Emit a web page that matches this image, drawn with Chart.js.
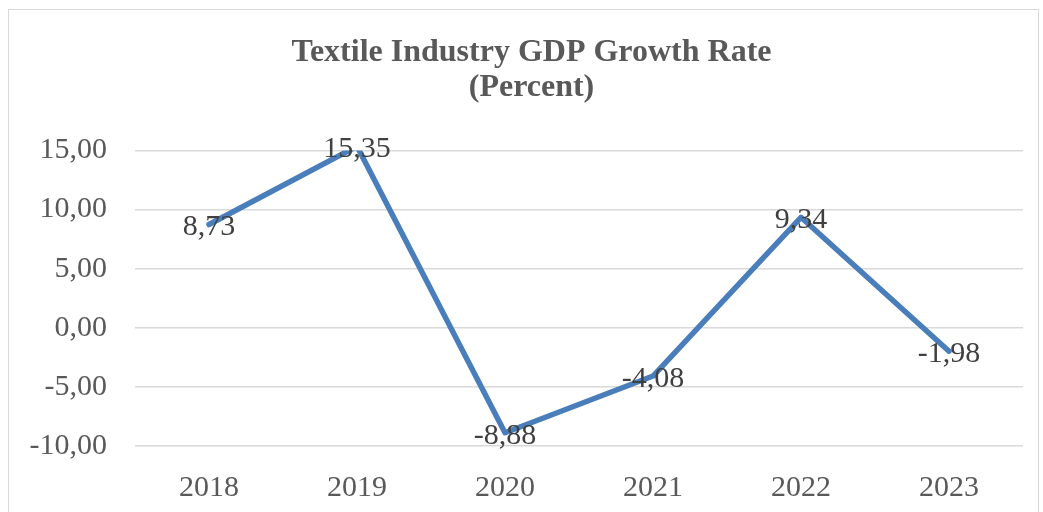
<!DOCTYPE html>
<html>
<head>
<meta charset="utf-8">
<script src="https://cdn.jsdelivr.net/npm/chart.js@4.4.1/dist/chart.umd.min.js"></script>
<style>
    html, body { margin: 0; padding: 0; background: #ffffff; }
    #frame {
        position: absolute; left: 8px; top: 9px; width: 1031px; height: 520px;
        border: 1px solid #d9d9d9; box-sizing: border-box;
    }
    #grafica { position: absolute; left: 0; top: 0; }
</style>
</head>
<body>
<div id="frame"></div>
<canvas id="grafica" width="1043" height="512"></canvas>
<script>
// --- Datos ---
const years = ['2018', '2019', '2020', '2021', '2022', '2023'];
const growthRate = [8.73, 15.35, -8.88, -4.08, 9.34, -1.98];
const titleLines = ['Textile Industry GDP Growth Rate', '(Percent)'];

const serif = '"Liberation Serif", "Times New Roman", serif';
const toComma = (v, d) => Number(v).toFixed(d).replace('.', ',');

// Etiquetas de datos centradas sobre cada punto
const valueLabels = {
    id: 'valueLabels',
    afterDatasetsDraw(chart) {
        const ctx = chart.ctx;
        const meta = chart.getDatasetMeta(0);
        ctx.save();
        ctx.font = '30px ' + serif;
        ctx.fillStyle = '#404040';
        ctx.textAlign = 'center';
        ctx.textBaseline = 'middle';
        meta.data.forEach((pt, i) => {
            ctx.fillText(toComma(growthRate[i], 2), pt.x, pt.y + 3);
        });
        ctx.restore();
    }
};

// El título va centrado un poco a la derecha, como en el original
const shiftTitle = {
    id: 'shiftTitle',
    afterLayout(chart) {
        if (chart.titleBlock) chart.titleBlock.left += 40;
    }
};

new Chart(document.getElementById('grafica').getContext('2d'), {
    type: 'line',
    data: {
        labels: years,
        datasets: [{
            data: growthRate,
            borderColor: '#4a7ebb',
            borderWidth: 5.5,
            pointRadius: 0,
            tension: 0,
            borderJoinStyle: 'round',
            borderCapStyle: 'round'
        }]
    },
    options: {
        responsive: false,
        animation: false,
        layout: { padding: { left: 0, right: 20, top: 0, bottom: 0 } },
        plugins: {
            legend: { display: false },
            tooltip: { enabled: false },
            title: {
                display: true,
                text: titleLines,
                color: '#595959',
                font: { family: serif, size: 32, weight: 'bold', lineHeight: 1.1 },
                padding: { top: 35, bottom: 45 }
            }
        },
        scales: {
            x: {
                offset: true,
                grid: { display: false, drawTicks: false },
                border: { display: false },
                ticks: { color: '#595959', font: { family: serif, size: 30 }, padding: 24 },
                afterFit: (scale) => { scale.height = 66; }
            },
            y: {
                min: -10,
                max: 15,
                ticks: {
                    stepSize: 5,
                    color: '#595959',
                    font: { family: serif, size: 30 },
                    padding: 28,
                    callback: (v) => toComma(v, 2)
                },
                grid: { color: '#d9d9d9', lineWidth: 1.5, drawTicks: false },
                border: { display: false },
                afterFit: (scale) => { scale.width = 135; }
            }
        }
    },
    plugins: [valueLabels, shiftTitle]
});
</script>
</body>
</html>
